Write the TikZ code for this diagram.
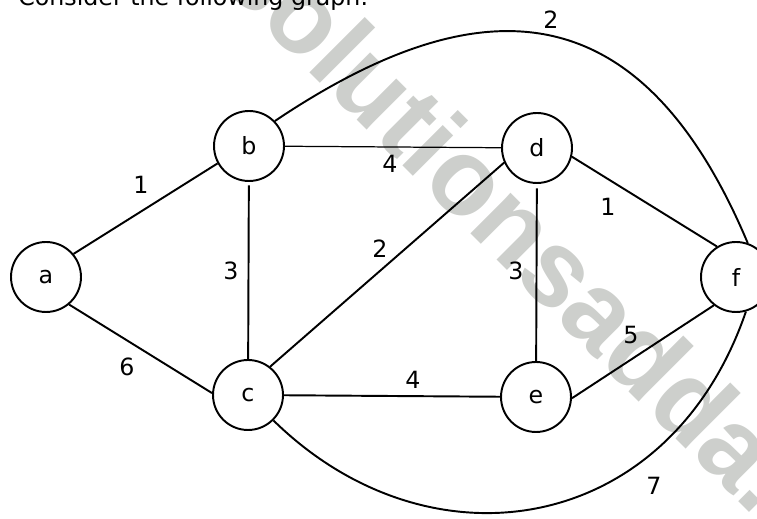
\documentclass[tikz,border=0pt]{standalone}
\usepackage{fontspec}
\setmainfont{DejaVu Sans}
\newfontfamily\wmfont{Liberation Sans}
\usetikzlibrary{positioning}
\definecolor{wmgray}{RGB}{205,207,204}
\newcommand{\lblfont}{\fontsize{13.5}{16}\selectfont}
\tikzset{
  vtx/.style={draw, circle, line width=1.1pt, minimum size=1.4cm, inner sep=0pt, font=\lblfont},
  wt/.style={inner sep=0pt, font=\lblfont},
  edg/.style={line width=1.1pt},
  thinedg/.style={line width=0.7pt},
  wmark/.style={anchor=base west, rotate=-45, inner sep=0pt, text=wmgray,
                font=\wmfont\bfseries\fontsize{61.5}{70}\selectfont},
}

\begin{document}
\begin{tikzpicture}[x=0.02cm, y=-0.02cm]
  \useasboundingbox (0,0) rectangle (757,519);
  \node[wmark] (wm) at (215,-22) {solutionsadda.in};
  \node[wt, anchor=base west] (ttl) at (18,6) {Consider the following graph:};

  \node[vtx] (a) at (46,277) {a};
  \node[vtx] (b) at (249,146) {b};
  \node[vtx] (c) at (248,395) {c};
  \node[vtx] (d) at (537,148) {d};
  \node[vtx] (e) at (536,397) {e};
  \node[vtx] (f) at (736,277) {f};

  \draw[edg] (a.40) -- (b.209); \draw[edg] (a.-50) -- (c.177);
  \draw[edg, shorten <=2pt] (b) -- (c); \draw[thinedg] (b) -- (d);
  \draw[edg] (c.52) -- (d.204); \draw[edg] (c) -- (e);
  \draw[edg, shorten <=2.5pt] (d) -- (e); \draw[edg] (d.-14) -- (f.122);
  \draw[edg] (e.-2) -- (f.-128);
  \draw[edg] (b.44) .. controls (476,-14) and (639,-15) .. (f.71);
  \draw[edg] (c.-45) .. controls (430,574) and (669,536) .. (f.-74);

  \node[wt] (wab) at (141,185) {1};
  \node[wt] (wac) at (127,367) {6};
  \node[wt] (wbc) at (231,271) {3};
  \node[wt] (wbd) at (390,164) {4};
  \node[wt] (wcd) at (380,249) {2};
  \node[wt] (wde) at (516,271) {3};
  \node[wt] (wdf) at (608,207) {1};
  \node[wt] (wce) at (413,380) {4};
  \node[wt] (wef) at (631,335) {5};
  \node[wt] (wbf) at (551,20) {2};
  \node[wt] (wcf) at (654,486) {7};
\end{tikzpicture}
\end{document}
